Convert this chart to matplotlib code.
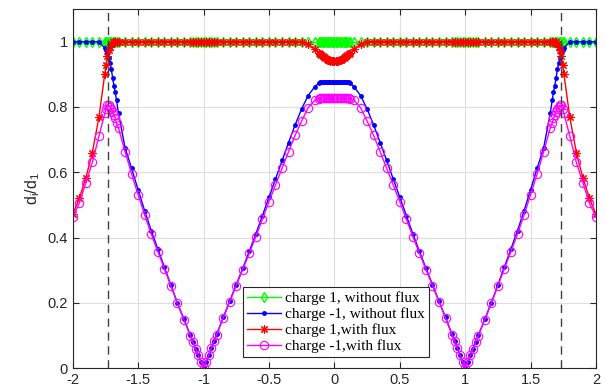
import matplotlib
matplotlib.use('Agg')
import matplotlib.pyplot as plt

plt.rcParams['font.family'] = ['Liberation Sans', 'DejaVu Sans']

# sample positions (shared by all four curves)
x = [-2.0, -1.95, -1.9, -1.85, -1.8,
     -1.755, -1.745, -1.735, -1.725, -1.715, -1.705, -1.695, -1.685, -1.675, -1.665,
     -1.65, -1.6, -1.55, -1.5, -1.45, -1.4, -1.35, -1.3, -1.25, -1.2, -1.15,
     -1.1, -1.08, -1.06, -1.04, -1.02, -1.0, -0.98, -0.96, -0.94, -0.92,
     -0.9, -0.85, -0.8, -0.75, -0.7, -0.65, -0.6, -0.55, -0.5, -0.45, -0.4, -0.35, -0.3, -0.25, -0.2, -0.15,
     -0.12, -0.11, -0.1, -0.09, -0.08, -0.07, -0.06, -0.05, -0.04, -0.03, -0.02, -0.01,
     0.0,
     0.01, 0.02, 0.03, 0.04, 0.05, 0.06, 0.07, 0.08, 0.09, 0.1, 0.11, 0.12,
     0.15, 0.2, 0.25, 0.3, 0.35, 0.4, 0.45, 0.5, 0.55, 0.6, 0.65, 0.7, 0.75, 0.8, 0.85, 0.9,
     0.92, 0.94, 0.96, 0.98, 1.0, 1.02, 1.04, 1.06, 1.08, 1.1,
     1.15, 1.2, 1.25, 1.3, 1.35, 1.4, 1.45, 1.5, 1.55, 1.6, 1.65,
     1.665, 1.675, 1.685, 1.695, 1.705, 1.715, 1.725, 1.735, 1.745, 1.755,
     1.8, 1.85, 1.9, 1.95, 2.0]

# charge 1, without flux
green = [1.0] * len(x)

# charge -1, without flux
blue = [1.0, 1.0, 1.0, 1.0, 1.0,
        0.98, 0.975, 0.965, 0.95, 0.935, 0.915, 0.89, 0.865, 0.845, 0.82,
        0.78, 0.675, 0.612, 0.546, 0.482, 0.421, 0.365, 0.31, 0.255, 0.2, 0.15,
        0.1, 0.08, 0.06, 0.04, 0.02, 0.0, 0.02, 0.04, 0.062, 0.083,
        0.103, 0.155, 0.205, 0.256, 0.306, 0.358, 0.411, 0.467, 0.524, 0.579, 0.636, 0.691, 0.745, 0.794, 0.835, 0.862,
        0.873, 0.876, 0.876, 0.876, 0.876, 0.876, 0.876, 0.876, 0.876, 0.876, 0.876, 0.876,
        0.876,
        0.876, 0.876, 0.876, 0.876, 0.876, 0.876, 0.876, 0.876, 0.876, 0.876, 0.876, 0.873,
        0.862, 0.835, 0.794, 0.745, 0.691, 0.636, 0.579, 0.524, 0.467, 0.411, 0.358, 0.306, 0.256, 0.205, 0.155, 0.103,
        0.083, 0.062, 0.04, 0.02, 0.0, 0.02, 0.04, 0.06, 0.08, 0.1,
        0.15, 0.2, 0.255, 0.31, 0.365, 0.421, 0.482, 0.546, 0.612, 0.675, 0.78,
        0.82, 0.845, 0.865, 0.89, 0.915, 0.935, 0.95, 0.965, 0.975, 0.98,
        1.0, 1.0, 1.0, 1.0, 1.0]

# charge 1, with flux
red = [0.471, 0.52, 0.582, 0.66, 0.768,
       0.90, 0.93, 0.955, 0.975, 0.985, 0.993, 0.998, 1.0, 1.0, 1.0,
       1.0, 1.0, 1.0, 1.0, 1.0, 1.0, 1.0, 1.0, 1.0, 1.0, 1.0,
       1.0, 1.0, 1.0, 1.0, 1.0, 1.0, 1.0, 1.0, 1.0, 1.0,
       1.0, 1.0, 1.0, 1.0, 1.0, 1.0, 1.0, 1.0, 1.0, 1.0, 1.0, 1.0, 1.0, 1.0, 0.992, 0.976,
       0.966, 0.962, 0.958, 0.955, 0.952, 0.949, 0.947, 0.945, 0.943, 0.942, 0.941, 0.94,
       0.94,
       0.94, 0.941, 0.942, 0.943, 0.945, 0.947, 0.949, 0.952, 0.955, 0.958, 0.962, 0.966,
       0.976, 0.992, 1.0, 1.0, 1.0, 1.0, 1.0, 1.0, 1.0, 1.0, 1.0, 1.0, 1.0, 1.0, 1.0, 1.0,
       1.0, 1.0, 1.0, 1.0, 1.0, 1.0, 1.0, 1.0, 1.0, 1.0,
       1.0, 1.0, 1.0, 1.0, 1.0, 1.0, 1.0, 1.0, 1.0, 1.0, 1.0,
       1.0, 1.0, 1.0, 0.998, 0.993, 0.985, 0.975, 0.955, 0.93, 0.90,
       0.768, 0.66, 0.582, 0.52, 0.471]

# charge -1, with flux
magenta = [0.462, 0.505, 0.567, 0.63, 0.71,
           0.78, 0.795, 0.805, 0.805, 0.80, 0.795, 0.785, 0.775, 0.765, 0.75,
           0.735, 0.663, 0.595, 0.531, 0.469, 0.411, 0.357, 0.305, 0.252, 0.198, 0.148,
           0.099, 0.079, 0.059, 0.04, 0.02, 0.0, 0.02, 0.04, 0.061, 0.082,
           0.102, 0.153, 0.203, 0.253, 0.302, 0.352, 0.403, 0.456, 0.51, 0.561, 0.612, 0.663, 0.713, 0.757, 0.798, 0.82,
           0.825, 0.826, 0.826, 0.826, 0.826, 0.826, 0.826, 0.826, 0.826, 0.826, 0.826, 0.826,
           0.826,
           0.826, 0.826, 0.826, 0.826, 0.826, 0.826, 0.826, 0.826, 0.826, 0.826, 0.826, 0.825,
           0.82, 0.798, 0.757, 0.713, 0.663, 0.612, 0.561, 0.51, 0.456, 0.403, 0.352, 0.302, 0.253, 0.203, 0.153, 0.102,
           0.082, 0.061, 0.04, 0.02, 0.0, 0.02, 0.04, 0.059, 0.079, 0.099,
           0.148, 0.198, 0.252, 0.305, 0.357, 0.411, 0.469, 0.531, 0.595, 0.663, 0.735,
           0.75, 0.765, 0.775, 0.785, 0.795, 0.80, 0.805, 0.805, 0.795, 0.78,
           0.71, 0.63, 0.567, 0.505, 0.462]

# dashed markers at +-sqrt(3)
vlines = [-1.732, 1.732]

xticks = [-2, -1.5, -1, -0.5, 0, 0.5, 1, 1.5, 2]
xticklabels = ['-2', '-1.5', '-1', '-0.5', '0', '0.5', '1', '1.5', '2']
yticks = [0, 0.2, 0.4, 0.6, 0.8, 1]
yticklabels = ['0', '0.2', '0.4', '0.6', '0.8', '1']

fig = plt.figure(figsize=(6.06, 3.92), dpi=100)
ax = fig.add_axes([0.12, 0.061, 0.8635, 0.916])

ax.plot(x, green, '-', color=(0, 1, 0), marker='d', mfc='none', ms=5, lw=1,
        label='charge 1, without flux')
ax.plot(x, blue, '-', color=(0, 0, 1), marker='.', ms=5, lw=1,
        label='charge -1, without flux')
# matlab style asterisk (8 spokes)
ax.plot(x, red, '-', color=(1, 0, 0), marker=(8, 2, 0), ms=6, lw=1, mew=0.8,
        label='charge 1,with flux')
ax.plot(x, magenta, '-', color=(1, 0, 1), marker='o', mfc='none', ms=6, lw=1, mew=0.8,
        label='charge -1,with flux')

for v in vlines:
    ax.axvline(v, color='0.25', ls=(0, (6, 4)), lw=1)

ax.set_xlim(-2, 2)
ax.set_ylim(0, 1.1)
ax.set_xticks(xticks)
ax.set_xticklabels(xticklabels)
ax.set_yticks(yticks)
ax.set_yticklabels(yticklabels)
ax.tick_params(direction='in', top=True, right=True, labelsize=10.5,
               colors='0.15', length=4, width=0.8)
for s in ax.spines.values():
    s.set_color('0.15')
    s.set_linewidth(0.8)
ax.grid(True, color='0.87', lw=0.8)
ax.set_axisbelow(True)

ax.set_ylabel(r'd$_\mathregular{i}$/d$_\mathregular{1}$', fontsize=11.5, color='0.15', labelpad=4)

leg = ax.legend(loc='lower left', bbox_to_anchor=(0.326, 0.031),
                prop={'family': 'Liberation Serif', 'size': 11},
                fancybox=False, framealpha=1, edgecolor='0.15',
                handlelength=2.2, handletextpad=0.3, borderpad=0.25,
                labelspacing=0.15, borderaxespad=0)
leg.get_frame().set_linewidth(0.8)

plt.savefig('out.png', dpi=100)
